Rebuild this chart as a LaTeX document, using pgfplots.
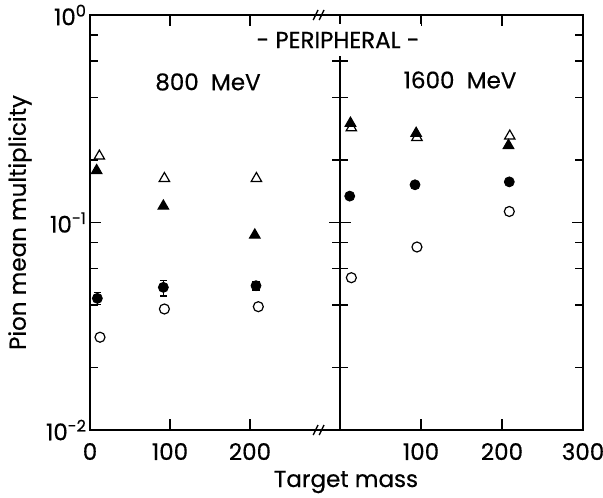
\documentclass[border=0pt]{standalone}
\usepackage{fontspec}
\setmainfont{Poppins}[FakeBold=0.5]
\usepackage{pgfplots}
\pgfplotsset{compat=1.18}
\pgfplotsset{
  logpanel/.style={
    scale only axis,
    height=207.5bp,
    ymin=0.01, ymax=1,
    ytick={0.01,0.1,1},
    minor ytick={0.02,0.04,0.06,0.08,0.2,0.4,0.6,0.8},
    tick align=inside,
    axis line style={line width=0.9pt},
    tick style={black, line width=0.7pt},
    major tick length=5.5bp, minor tick length=3.8bp,
    tick label style={font=\fontsize{11.5bp}{14bp}\selectfont},
    xticklabel style={yshift=-2.5bp},
    clip=false,
  },
  opentri/.style={only marks, mark=triangle, mark size=3bp, mark options={line width=0.6pt, fill=white}},
  filltri/.style={only marks, mark=triangle*, mark size=3bp, mark options={line width=0.6pt, fill=black}},
  opencirc/.style={only marks, mark=o, mark size=2.5bp, mark options={line width=0.6pt}},
  fillcirc/.style={only marks, mark=*, mark size=2.5bp, mark options={fill=black}},
}
\begin{document}
\fontsize{11.5bp}{14bp}\selectfont
\begin{tikzpicture}
\path[use as bounding box] (-45bp,-34bp) rectangle (256.5bp,215bp);
% 800 MeV
\begin{axis}[ymode=log, logpanel, name=L, at={(0,0)}, anchor=south west,
  width=125bp, xmin=0, xmax=312.5,
  xtick={0,100,200},
  xticklabels={0,100,200},
  yticklabels={10\textsuperscript{-2},10\textsuperscript{-1},10\textsuperscript{0}},
  yticklabel style={xshift=2.5bp},
  error bars/y dir=both,
  error bars/y explicit,
  error bars/error bar style={line width=0.6pt, black},
  error bars/error mark options={rotate=90, mark size=1.8bp, line width=0.6pt},
]
\addplot[opentri, black] coordinates {(11.7,0.209) (93,0.163) (208,0.163)};
\addplot[filltri, black] coordinates {(8.3,0.178) (91.7,0.120) (206,0.087)};
\addplot[fillcirc, black] coordinates {
    (9.2,0.0431) += (0,0.0030) -= (0,0.0028)
    (91.7,0.0487) += (0,0.0037) -= (0,0.0045)
    (207.5,0.0496) += (0,0.0022) -= (0,0.0023)
  };
\addplot[opencirc, black] coordinates {(12.5,0.0280) (93,0.0383) (210.4,0.0393)};
% axis break marks
\draw[line width=0.7pt] ([xshift=-3.2bp,yshift=-2.5bp]axis cs:287,1) -- ++(2.4bp,5bp);
\draw[line width=0.7pt] ([xshift=-0.2bp,yshift=-2.5bp]axis cs:287,1) -- ++(2.4bp,5bp);
\draw[line width=0.7pt] ([xshift=-3.2bp,yshift=-2.5bp]axis cs:287,0.01) -- ++(2.4bp,5bp);
\draw[line width=0.7pt] ([xshift=-0.2bp,yshift=-2.5bp]axis cs:287,0.01) -- ++(2.4bp,5bp);
\end{axis}
% 1600 MeV
\begin{axis}[ymode=log, logpanel, name=R, at={(L.south east)}, anchor=south west,
  width=121.5bp, xmin=0, xmax=300,
  xtick={100,200,300},
  xticklabels={100,200,300},
  yticklabels={},
]
\addplot[filltri, black] coordinates {(12.9,0.301) (94,0.269) (208,0.235)};
\addplot[opentri, black] coordinates {(14,0.286) (95,0.257) (209.6,0.261)};
\addplot[fillcirc, black] coordinates {(12,0.134) (92.6,0.152) (209,0.157)};
\addplot[opencirc, black] coordinates {(14,0.0542) (95,0.0762) (209,0.113)};
\end{axis}
\node[fill=white, inner xsep=1bp, inner ysep=4bp] at (124bp,195bp) {- PERIPHERAL -};
\node at (59bp,174bp) {800\ \ MeV};
\node at (185bp,175bp) {1600\ \ MeV};
\node[rotate=90] at (-35bp,103.75bp) {Pion mean multiplicity};
\node[anchor=base] at (128bp,-28.5bp) {Target mass};
\end{tikzpicture}
\end{document}
